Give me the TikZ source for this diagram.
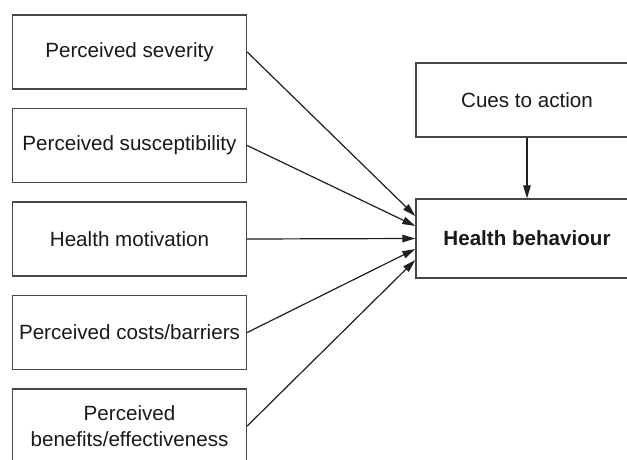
\documentclass[tikz,border=0pt]{standalone}
\usepackage{fontspec}
\setmainfont{Liberation Sans}
\usetikzlibrary{arrows.meta}
\begin{document}
\begin{tikzpicture}[x=1pt,y=-1pt,
  factor/.style={draw=black!72,line width=1.4pt,minimum width=234pt,minimum height=74pt,
    inner sep=2pt,align=center,font=\fontsize{20.6}{25.5}\selectfont,text=black!90},
  rbox/.style={factor,minimum width=222pt},
  link/.style={draw=black!88,line width=1.2pt,-{Triangle[length=13pt,width=7.5pt]}}]
\useasboundingbox (0,0) rectangle (627,459);
\clip (0,0) rectangle (627,459);
\node[factor] (s1) at (129.5,52) {Perceived severity};
\node[factor] (s2) at (129.5,145.5) {Perceived susceptibility};
\node[factor] (s3) at (129.5,239) {Health motivation};
\node[factor] (s4) at (129.5,332.5) {Perceived costs/barriers};
\node[factor] (s5) at (129.5,426) {Perceived\\benefits/effectiveness};
\node[rbox] (cue) at (527,100) {Cues to action};
\node[rbox,minimum height=79pt,font=\fontsize{20.6}{24}\selectfont\bfseries] (hb) at (527,238.5) {Health behaviour};
\draw[link] (s1.east) -- ([yshift=22.5pt]hb.west);
\draw[link] (s2.east) -- ([yshift=12.5pt]hb.west);
\draw[link] (s3.east) -- (hb.west);
\draw[link] (s4.east) -- ([yshift=-10.5pt]hb.west);
\draw[link] (s5.east) -- ([yshift=-21.5pt]hb.west);
\draw[link] (cue.south) -- (hb.north);
\end{tikzpicture}
\end{document}
